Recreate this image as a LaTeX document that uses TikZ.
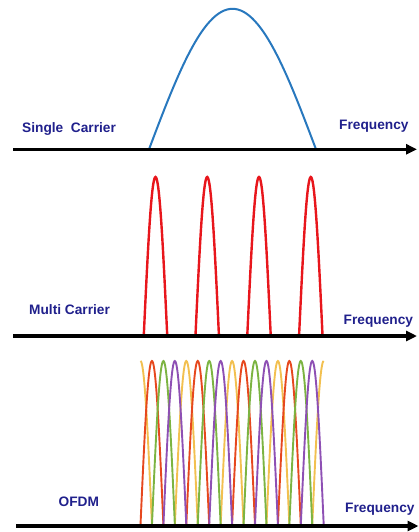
\documentclass[tikz,border=0pt]{standalone}
\usepackage{fontspec}
\setmainfont{Liberation Sans}
\usetikzlibrary{arrows.meta}
\definecolor{navy}{RGB}{32,32,140}
\definecolor{scblue}{RGB}{40,120,190}
\definecolor{mcred}{RGB}{232,22,28}
\definecolor{ofred}{RGB}{230,72,30}
\definecolor{ofgreen}{RGB}{124,180,66}
\definecolor{ofpurple}{RGB}{142,80,180}
\definecolor{ofyellow}{RGB}{242,192,80}
\begin{document}
\begin{tikzpicture}[x=1pt,y=-1pt,
  lbl/.style={font=\fontsize{13.7}{16}\selectfont\bfseries, text=navy, inner sep=0pt, anchor=base west},
  axis/.style={line width=3.6pt, -{Triangle[length=11pt,width=10pt]}},
  sccurve/.style={scblue, line width=2pt},
  mccurve/.style={mcred, line width=2.4pt},
  ofcurve/.style={line width=1.9pt}]
\useasboundingbox (0,0) rectangle (418,532);

% ---- Single carrier ----
\coordinate (a1s) at (13,149.3);
\coordinate (a1e) at (417,149.3);
\draw[sccurve] plot[domain=0:1, samples=61, smooth] ({149+167*\x},{149.3-140.5*sin(180*\x)});
\draw[axis] (a1s) -- (a1e);
\node[lbl] (sc) at (22,132.5) {Single\ \ Carrier};
\node[lbl] (f1) at (339,129.5) {Frequency};

% ---- Multi carrier ----
\coordinate (a2s) at (13,336);
\coordinate (a2e) at (417,336);
\foreach \c in {155.5,207.2,259,310.8}
  \draw[mccurve] plot[domain=-1:1, samples=41, smooth] ({\c+11.7*\x},{335-158*cos(90*\x)});
\draw[axis] (a2s) -- (a2e);
\node[lbl] (mc) at (29,314) {Multi Carrier};
\node[lbl] (f2) at (343.5,324) {Frequency};

% ---- OFDM ----
\coordinate (a3s) at (16,526);
\coordinate (a3e) at (418.5,526);
\draw[ofcurve, ofyellow] plot[domain=0:1, samples=21, smooth] ({140.5+11.45*\x},{525-164*cos(90*\x)});
\foreach \j in {4,8,12}
  \draw[ofcurve, ofyellow] plot[domain=-1:1, samples=41, smooth] ({140.5+11.45*\j+11.45*\x},{525-164*cos(90*\x)});
\draw[ofcurve, ofyellow] plot[domain=-1:0, samples=21, smooth] ({140.5+11.45*16+11.45*\x},{525-164*cos(90*\x)});
\foreach \j in {1,5,9,13}
  \draw[ofcurve, ofred] plot[domain=-1:1, samples=41, smooth] ({140.5+11.45*\j+11.45*\x},{525-164*cos(90*\x)});
\foreach \j in {2,6,10,14}
  \draw[ofcurve, ofgreen] plot[domain=-1:1, samples=41, smooth] ({140.5+11.45*\j+11.45*\x},{525-164*cos(90*\x)});
\foreach \j in {3,7,11,15}
  \draw[ofcurve, ofpurple] plot[domain=-1:1, samples=41, smooth] ({140.5+11.45*\j+11.45*\x},{525-164*cos(90*\x)});
\draw[axis] (a3s) -- (a3e);
\node[lbl] (of) at (58.5,506) {OFDM};
\node[lbl] (f3) at (345,512.5) {Frequency};
\end{tikzpicture}
\end{document}
